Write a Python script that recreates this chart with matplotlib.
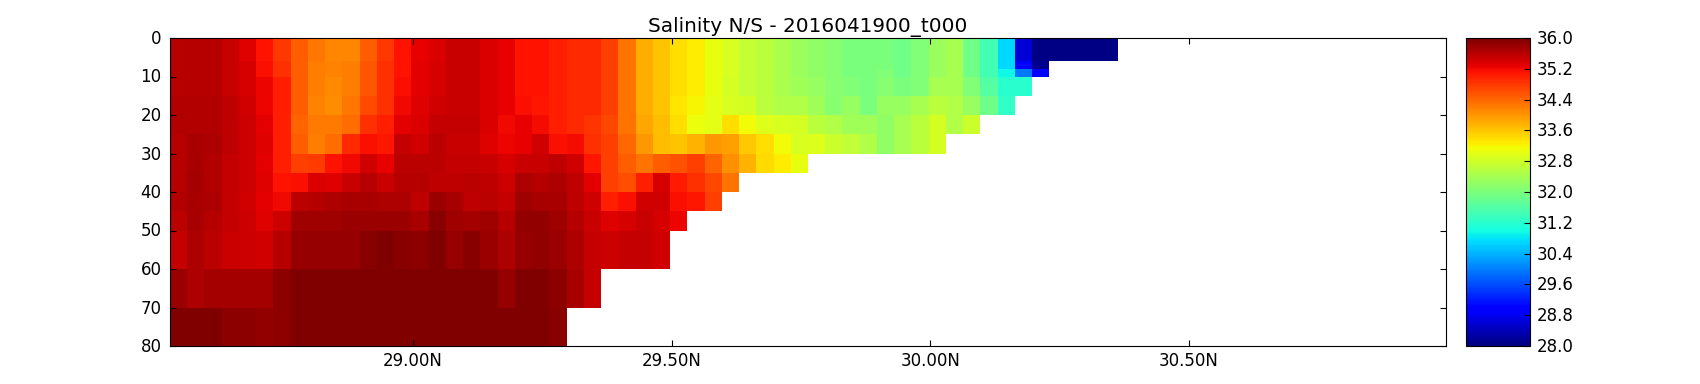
import matplotlib
matplotlib.use('Agg')
import matplotlib.pyplot as plt
from matplotlib.transforms import ScaledTranslation
import numpy as np

# depth layer edges (m)
depth_edges = [0, 2, 4, 6, 8, 10, 12, 15, 20, 25, 30, 35, 40, 45, 50, 60, 70, 80]
lat_start = 28.53
lat_step = 1.0 / 30
n_lat = 74

# salinity per layer, shorter rows end at the bottom
s00 = [35.62,35.62,35.62,35.48,35.33,35.10,34.80,34.47,34.25,34.15,34.15,34.47,34.80,35.10,35.26,35.37,35.48,35.48,35.37,35.26,35.10,35.10,35.01,34.93,34.93,34.74,34.30,33.80,33.60,33.38,33.25,33.05,32.90,32.70,32.60,32.45,32.30,32.20,32.12,31.98,31.98,31.98,31.90,32.05,32.30,32.42,31.90,31.45,30.70,28.60,28.05,28.05,28.05,28.05,28.05]
s02 = [35.62,35.62,35.62,35.48,35.33,35.10,34.80,34.47,34.25,34.15,34.15,34.47,34.80,35.10,35.26,35.37,35.48,35.48,35.37,35.26,35.10,35.10,35.01,34.93,34.93,34.74,34.30,33.80,33.60,33.38,33.25,33.05,32.90,32.70,32.60,32.45,32.30,32.20,32.12,31.98,31.98,31.98,31.90,32.05,32.30,32.42,31.90,31.45,30.70,28.60,28.05,28.05,28.05,28.05,28.05]
s04 = [35.62,35.62,35.62,35.48,35.33,35.10,34.80,34.47,34.25,34.15,34.15,34.47,34.80,35.10,35.26,35.37,35.48,35.48,35.37,35.26,35.10,35.10,35.01,34.93,34.93,34.74,34.30,33.80,33.60,33.38,33.25,33.05,32.90,32.70,32.60,32.45,32.30,32.20,32.12,31.98,31.98,31.98,31.90,32.05,32.30,32.42,31.90,31.45,30.70,28.60,28.05,28.05,28.05,28.05,28.05]
s06 = [35.62,35.62,35.62,35.48,35.40,35.14,34.87,34.47,34.20,34.16,34.20,34.54,34.87,35.10,35.29,35.40,35.48,35.48,35.37,35.26,35.10,35.10,35.01,34.93,34.93,34.74,34.30,33.80,33.60,33.38,33.25,33.05,32.90,32.70,32.60,32.45,32.30,32.20,32.12,31.98,31.98,31.98,31.90,32.05,32.30,32.42,31.90,31.45,30.70,28.90,28.10]
s08 = [35.62,35.62,35.62,35.48,35.40,35.14,34.87,34.47,34.20,34.16,34.20,34.54,34.87,35.10,35.29,35.40,35.48,35.48,35.37,35.26,35.10,35.10,35.01,34.93,34.93,34.74,34.30,33.80,33.60,33.38,33.25,33.05,32.90,32.70,32.60,32.45,32.30,32.20,32.12,31.98,31.98,32.05,31.90,32.05,32.30,32.42,31.90,31.45,30.95,29.95,29.00]
s10 = [35.62,35.62,35.62,35.48,35.40,35.22,35.01,34.47,34.20,34.10,34.20,34.54,34.87,35.14,35.29,35.40,35.48,35.48,35.37,35.26,35.10,35.10,35.01,34.93,34.93,34.74,34.30,33.80,33.60,33.38,33.25,33.05,32.85,32.70,32.60,32.45,32.35,32.25,32.12,32.04,31.98,32.12,31.98,32.04,32.42,32.42,32.04,31.60,31.20,31.20]
s12 = [35.62,35.62,35.62,35.48,35.40,35.22,35.01,34.47,34.20,34.10,34.20,34.54,34.87,35.14,35.29,35.40,35.48,35.48,35.37,35.26,35.10,35.10,35.01,34.93,34.93,34.74,34.30,33.80,33.60,33.38,33.25,33.05,32.85,32.70,32.60,32.45,32.35,32.25,32.12,32.04,31.98,32.12,31.98,32.04,32.42,32.42,32.04,31.65,31.20,31.20]
s15 = [35.65,35.65,35.65,35.55,35.43,35.23,35.01,34.47,34.16,34.08,34.27,34.64,34.87,35.20,35.33,35.43,35.48,35.48,35.37,35.26,35.14,35.07,35.01,34.93,34.93,34.74,34.30,33.80,33.60,33.33,33.20,33.00,32.90,32.85,32.60,32.52,32.52,32.35,32.12,32.28,31.98,32.28,32.28,32.42,32.60,32.52,32.28,31.85,31.25]
s20 = [35.65,35.65,35.65,35.55,35.45,35.29,35.01,34.43,34.22,34.22,34.35,34.87,35.01,35.29,35.37,35.51,35.51,35.51,35.37,35.20,35.26,35.18,35.01,34.93,34.82,34.68,34.30,33.85,33.66,33.38,33.08,33.00,33.38,33.15,32.95,32.90,32.85,32.60,32.52,32.35,32.35,32.20,32.42,32.60,32.85,32.52,32.75]
s25 = [35.62,35.70,35.67,35.55,35.45,35.32,35.01,34.47,34.20,34.35,34.93,35.14,35.07,35.51,35.43,35.59,35.48,35.48,35.34,35.23,35.26,35.43,35.15,35.18,34.87,34.74,34.40,33.98,33.66,33.60,33.78,33.98,33.93,33.58,33.38,33.15,32.90,32.95,32.75,32.66,32.52,32.20,32.42,32.60,32.85]
s30 = [35.62,35.70,35.65,35.51,35.45,35.29,35.01,34.74,34.78,35.10,35.20,35.43,35.26,35.59,35.59,35.59,35.51,35.51,35.48,35.40,35.48,35.48,35.55,35.43,35.07,34.74,34.47,34.30,34.47,34.58,34.74,34.43,34.05,33.78,33.42,33.25,33.05]
s35 = [35.62,35.73,35.65,35.51,35.45,35.32,35.10,35.15,35.37,35.34,35.48,35.62,35.48,35.62,35.62,35.56,35.56,35.59,35.55,35.45,35.67,35.62,35.67,35.56,35.29,34.74,34.60,35.01,35.40,35.04,34.87,34.68,34.30]
s40 = [35.65,35.70,35.67,35.51,35.43,35.29,35.20,35.59,35.62,35.67,35.70,35.70,35.67,35.67,35.56,35.81,35.70,35.56,35.59,35.51,35.78,35.70,35.70,35.56,35.43,35.01,35.15,35.43,35.43,35.14,35.07,34.74]
s45 = [35.59,35.70,35.62,35.51,35.45,35.32,35.45,35.75,35.75,35.78,35.81,35.81,35.81,35.81,35.70,35.93,35.75,35.73,35.75,35.62,35.87,35.87,35.78,35.62,35.48,35.32,35.40,35.48,35.40,35.23]
s50 = [35.51,35.67,35.59,35.48,35.45,35.43,35.62,35.84,35.84,35.84,35.84,35.93,36.00,35.93,35.90,36.00,35.84,35.93,35.81,35.67,35.84,35.87,35.81,35.67,35.51,35.45,35.51,35.51,35.43]
s60 = [35.81,35.67,35.73,35.73,35.73,35.73,35.90,36.00,36.00,35.97,36.00,36.00,36.00,36.00,36.00,36.00,36.00,36.00,35.97,35.84,36.00,36.00,35.90,35.70,35.51]
s70 = [35.97,35.97,35.97,35.90,35.90,35.87,35.90,36.00,36.00,36.00,36.00,36.00,36.00,36.00,36.00,36.00,36.00,36.00,36.00,36.00,36.00,36.00,35.93]

layers = [s00, s02, s04, s06, s08, s10, s12, s15, s20, s25, s30, s35, s40, s45, s50, s60, s70]

salinity = np.full((len(layers), n_lat), np.nan)
for i, row in enumerate(layers):
    salinity[i, :len(row)] = row
salinity = np.ma.masked_invalid(salinity)
lat_edges = lat_start + lat_step * np.arange(n_lat + 1)

fig = plt.figure(figsize=(17, 3.84), dpi=100, facecolor='white')
ax = fig.add_axes([170 / 1700, 1 - 346 / 384, 1276 / 1700, 308 / 384])
mesh = ax.pcolormesh(lat_edges, depth_edges, salinity, cmap='jet', vmin=28, vmax=36, antialiased=False)
ax.set_xlim(lat_edges[0], lat_edges[-1])
ax.set_ylim(80, 0)
ax.set_xticks([29.0, 29.5, 30.0, 30.5])
ax.set_xticklabels(['29.00N', '29.50N', '30.00N', '30.50N'])
ax.set_yticks(np.arange(0, 81, 10))
ax.tick_params(direction='in', top=True, right=True, length=4, labelsize=12)
ax.tick_params(axis='x', pad=4.5)
ax.tick_params(axis='y', pad=6)
ax.set_title('Salinity N/S - 2016041900_t000', fontsize=14.4, pad=4.5)

cax = fig.add_axes([1466 / 1700, 1 - 346 / 384, 64 / 1700, 308 / 384])
cbar = fig.colorbar(mesh, cax=cax)
cbar.set_ticks(np.arange(28, 36.1, 0.8))
cbar.ax.set_yticklabels(['%.1f' % t for t in np.arange(28, 36.1, 0.8)])
cbar.ax.tick_params(direction='in', length=4, labelsize=12, pad=5)

# labels sit a pixel higher in the original
up = ScaledTranslation(0, 1.0 / 100, fig.dpi_scale_trans)
for lab in ax.get_yticklabels() + cbar.ax.get_yticklabels():
    lab.set_transform(lab.get_transform() + up)

fig.savefig('out.png', dpi=100)
